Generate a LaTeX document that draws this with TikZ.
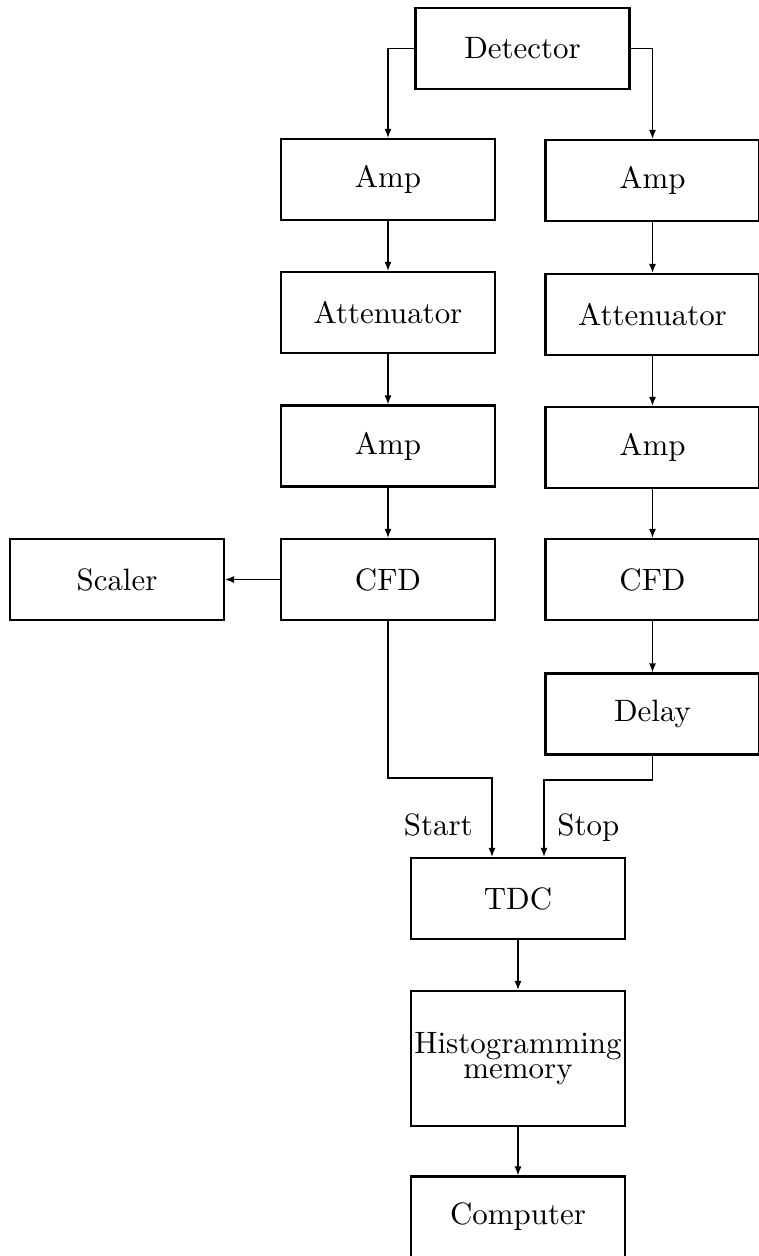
\documentclass[tikz,border=0pt]{standalone}
\usetikzlibrary{arrows.meta,positioning}
\newcommand{\cmbig}[1]{\scalebox{1.76}{\fontsize{10}{7}\selectfont#1}}

\begin{document}
\begin{tikzpicture}[x=.02cm,y=-.02cm,
    blockbox/.style={draw,line width=1.2pt,minimum width=4.28cm,
      minimum height=1.62cm,inner sep=1pt,align=center},
    flow/.style={line width=.8pt,-{Latex[length=1.8mm,width=1.4mm]}},
    tag/.style={inner sep=0pt}]
    \useasboundingbox (0,0) rectangle (759,1256);
    \node[blockbox] (det) at (522.5,48.5) {\cmbig{Detector}};
    % left branch
    \node[blockbox] (lamp1) at (388,179.5) {\cmbig{Amp}};
    \node[blockbox] (latt) at (388,312.5) {\cmbig{Attenuator}};
    \node[blockbox] (lamp2) at (388,446) {\cmbig{Amp}};
    \node[blockbox] (lcfd) at (388,579.5) {\cmbig{CFD}};
    \node[blockbox] (scaler) at (117,579.5) {\cmbig{Scaler}};
    % right branch
    \node[blockbox] (ramp1) at (652.5,180.5) {\cmbig{Amp}};
    \node[blockbox] (ratt) at (652.5,314.5) {\cmbig{Attenuator}};
    \node[blockbox] (ramp2) at (652.5,447.5) {\cmbig{Amp}};
    \node[blockbox] (rcfd) at (652.5,579.5) {\cmbig{CFD}};
    \node[blockbox] (delay) at (652.5,714) {\cmbig{Delay}};
    % timing chain
    \node[blockbox] (tdc) at (518,898.5) {\cmbig{TDC}};
    \node[blockbox,minimum height=2.7cm] (hist) at (518,1058.5)
      {\cmbig{\begin{tabular}{@{}c@{}}Histogramming\\[1.2pt]memory\end{tabular}}};
    \node[blockbox] (comp) at (518,1217) {\cmbig{Computer}};
    \coordinate (startin) at ([xshift=-.52cm]tdc.north);
    \coordinate (stopin) at ([xshift=.52cm]tdc.north);
    \draw[flow] (det.west) -| (lamp1.north);
    \draw[flow] (det.east) -| (ramp1.north);
    \foreach \a/\b in {lamp1/latt,latt/lamp2,lamp2/lcfd,ramp1/ratt,
        ratt/ramp2,ramp2/rcfd,rcfd/delay,tdc/hist,hist/comp}
      \draw[flow] (\a.south) -- (\b.north);
    \draw[flow] (lcfd.west) -- (scaler.east);
    \draw[flow] (lcfd.south) -- (lcfd.south |- 0,778) -| (startin);
    \draw[flow] (delay.south) -- (delay.south |- 0,780) -| (stopin);
    \node[tag,anchor=base east] (starttag) at (473,835) {\cmbig{Start}};
    \node[tag,anchor=base west] (stoptag) at (557,835) {\cmbig{Stop}};
  \end{tikzpicture}
\end{document}
